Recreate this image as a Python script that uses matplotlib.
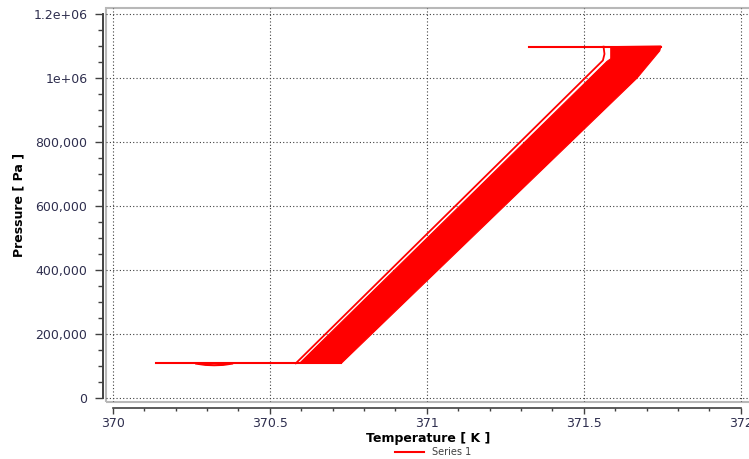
import matplotlib
matplotlib.use("Agg")
import matplotlib.pyplot as plt
from matplotlib.patches import Rectangle
from matplotlib.ticker import MultipleLocator

# pressure / temperature trace (K, Pa)
base_T = [370.137, 370.728]
base_P = [108400, 108400]

dip_T = [370.266, 370.295, 370.323, 370.352, 370.380]
dip_P = [107500, 103500, 102500, 103500, 107500]

edge_T = [370.583, 371.561, 371.566, 371.563]
edge_P = [108400, 1055000, 1075000, 1098000]

top_T = [371.326, 371.746]
top_P = [1098000, 1098000]

# outline of the dense bundle of cycles
band_T = [370.595, 371.574, 371.586, 371.586, 371.746, 371.742, 371.670, 370.728]
band_P = [108400, 1052000, 1060000, 1098000, 1100000, 1085000, 1000000, 108400]

x_ticks = [370, 370.5, 371, 371.5, 372]
x_labels = ["370", "370.5", "371", "371.5", "372"]
y_ticks = [0, 200000, 400000, 600000, 800000, 1000000, 1200000]
y_labels = ["0", "200,000", "400,000", "600,000", "800,000", "1e+06", "1.2e+06"]

W, H = 749, 459
fig = plt.figure(figsize=(W / 100, H / 100), dpi=100)
ax = fig.add_axes([105.5 / W, 57 / H, 645 / W, 394 / H])

red = "#ff0000"
ax.fill(band_T, band_P, color=red, lw=0.8, zorder=3)
ax.plot(base_T, base_P, color=red, lw=1.5, zorder=3, label="Series 1")
ax.plot(dip_T, dip_P, color=red, lw=1.5, zorder=3)
ax.plot(edge_T, edge_P, color=red, lw=1.3, zorder=3)
ax.plot(top_T, top_P, color=red, lw=1.5, zorder=3)

ax.set_xlim(369.977, 372.031)
ax.set_ylim(-12500, 1218750)

ax.set_xticks(x_ticks)
ax.set_xticklabels(x_labels)
ax.set_yticks(y_ticks)
ax.set_yticklabels(y_labels)
ax.xaxis.set_minor_locator(MultipleLocator(0.1))
ax.yaxis.set_minor_locator(MultipleLocator(50000))

ax.grid(True, which="major", color="#404040", ls=(0, (1, 2)), lw=0.8, zorder=1)

for s in ["top", "right"]:
    ax.spines[s].set_visible(False)
ax.spines["left"].set_position(("outward", 1.8))
ax.spines["bottom"].set_position(("outward", 4.3))
ax.spines["left"].set_bounds(0, 1200000)
ax.spines["bottom"].set_bounds(370, 372)
ax.spines["left"].set_color("#404040")
ax.spines["bottom"].set_color("#404040")
ax.spines["left"].set_linewidth(1.4)
ax.spines["bottom"].set_linewidth(1.2)

# light plot frame
ax.add_patch(Rectangle((0, 0), 1, 1, transform=ax.transAxes, fill=False,
                       edgecolor="#b8b8b8", lw=1.5, clip_on=False, zorder=0))

lab_color = "#2e2e4e"
ax.tick_params(axis="y", which="major", length=5.8, width=1, colors="#404040",
               labelcolor=lab_color, labelsize=9, pad=5.5)
ax.tick_params(axis="y", which="minor", length=3.6, width=1, colors="#404040")
ax.tick_params(axis="x", which="major", length=4.5, width=1, colors="#404040",
               labelcolor=lab_color, labelsize=9, pad=2.2)
ax.tick_params(axis="x", which="minor", length=2.4, width=1, colors="#404040")

ax.set_xlabel("Temperature [ K ]", fontsize=9, fontweight="bold", labelpad=1)
ax.set_ylabel("Pressure [ Pa ]", fontsize=9, fontweight="bold", labelpad=6)

fig.legend(loc="center", bbox_to_anchor=(433 / W, 1 - 452 / H), frameon=False,
           fontsize=7, handlelength=3, labelcolor="#404040")

fig.savefig("out.png", dpi=100)
